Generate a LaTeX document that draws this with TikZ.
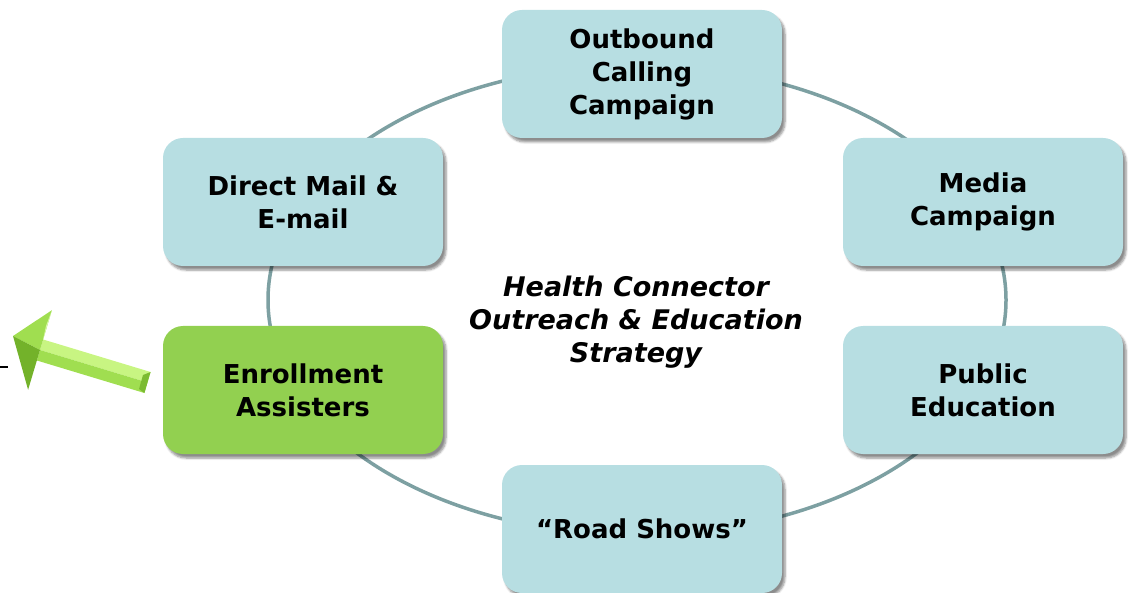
\documentclass[tikz,border=0pt]{standalone}
\usepackage{fontspec}
\setmainfont{DejaVu Sans}
\usetikzlibrary{shadows.blur}
\definecolor{boxblue}{RGB}{183,222,226}
\definecolor{boxgreen}{RGB}{146,208,80}
\definecolor{ringgray}{RGB}{125,160,162}
\definecolor{arrowlight}{RGB}{200,245,130}
\definecolor{arrowmid}{RGB}{160,222,80}
\definecolor{arrowdark}{RGB}{115,178,42}

\tikzset{
  outreachbox/.style={rectangle, rounded corners=20pt, minimum width=280pt, minimum height=128pt,
    fill=boxblue, align=center, font=\fontsize{26}{33}\selectfont\bfseries,
    blur shadow={shadow xshift=3pt, shadow yshift=-4pt, shadow blur steps=6, shadow opacity=45}},
  hubtext/.style={align=center, font=\fontsize{27}{33}\selectfont\bfseries\itshape},
}

\begin{document}
\begin{tikzpicture}[x=1pt, y=-1pt]
			%%%%% START %%%%%
			\useasboundingbox (0,0) rectangle (1132,593);
			
			\coordinate (ringcenter) at (637,300);
			\draw[line width=3.5pt, color=ringgray] (ringcenter) ellipse [x radius=369pt, y radius=235pt];
			
			\node[outreachbox] (outbound) at (642,74) {Outbound\\Calling\\Campaign};
			\node[outreachbox] (mail) at (303,202) {Direct Mail \&\\E-mail};
			\node[outreachbox] (media) at (983,202) {Media\\Campaign};
			\node[outreachbox, fill=boxgreen] (enroll) at (303,390) {Enrollment\\Assisters};
			\node[outreachbox] (public) at (983,390) {Public\\Education};
			\node[outreachbox] (road) at (642,529) {“Road Shows”};
			
			\node[hubtext] (hub) at (636,322) {Health Connector\\Outreach \& Education\\Strategy};
			
			% arrow out of the enrollment box
			\fill[arrowlight] (150.6,372) -- (43.1,339.5) -- (40,350) -- (147.5,382.5) -- cycle;
			\fill[arrowmid] (147.5,382.5) -- (40,350) -- (36.9,360.5) -- (144.4,393) -- cycle;
			\fill[arrowdark!80!arrowmid] (150.6,372) -- (144.4,393) -- (139,389) -- (143,375) -- cycle;
			\fill[arrowmid] (13,336) -- (51.9,310.2) -- (40,350) -- cycle;
			\fill[arrowdark] (13,336) -- (40,350) -- (28.1,389.8) -- cycle;
			\fill[arrowlight!70!white] (43.1,339.5) -- (51.9,310.2) -- (46,326) -- cycle;
			
			\draw[line width=2.5pt] (0,367) -- (8,367);
			%%%%% END %%%%%
\end{tikzpicture}
\end{document}
